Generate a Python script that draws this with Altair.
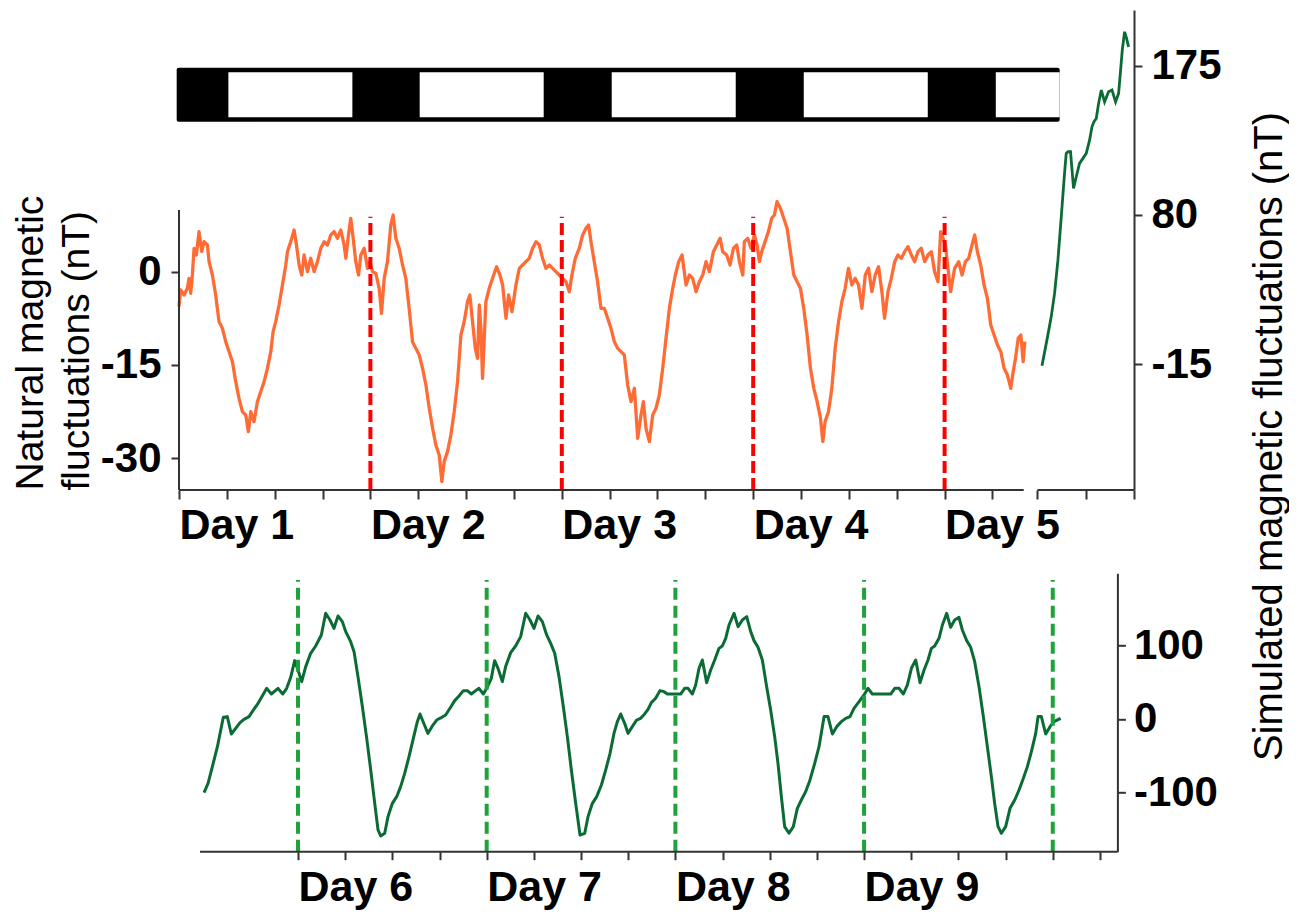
import altair as alt
import pandas as pd

FONT = "Liberation Sans"

# ---------------- data ----------------
# Top panel: natural magnetic fluctuations (hours from start of Day 1, nT)
nat_t = [0.00, 0.21, 0.63, 1.05, 1.26, 1.47, 1.68, 1.89, 2.18, 2.51, 2.85, 3.14, 3.56, 3.77, 4.19, 4.60,
         5.02, 5.44, 5.86, 6.28, 6.70, 7.11, 7.53, 7.95, 8.37, 8.70, 9.00, 9.41, 9.83, 10.25, 10.67, 11.09,
         11.51, 11.80, 12.13, 12.55, 12.97, 13.39, 13.60, 14.02, 14.43, 14.73, 15.06, 15.39, 15.69, 16.11,
         16.52, 16.94, 17.36, 17.78, 18.20, 18.62, 19.03, 19.45, 19.87, 20.29, 20.71, 20.92, 21.25, 21.54,
         21.84, 22.17, 22.51, 22.80, 23.22, 23.63, 23.93, 24.26, 24.68, 25.10, 25.39, 25.73, 26.14, 26.56,
         26.85, 27.19, 27.61, 28.03, 28.44, 28.86, 29.28, 29.70, 30.12, 30.54, 30.96, 31.38, 31.80, 32.21,
         32.63, 32.96, 33.25, 33.67, 34.09, 34.51, 34.93, 35.35,
         35.76, 36.18, 36.47, 36.81, 37.15, 37.44, 37.65, 37.86, 38.06, 38.48, 38.90, 39.32, 39.82, 40.24,
         40.58, 41.00, 41.33, 41.75, 42.25, 42.67, 43.08, 43.50, 43.92, 44.34, 44.76, 45.18, 45.59, 46.01,
         46.43, 46.85, 47.26, 47.68, 48.10, 48.52, 48.94, 49.27, 49.69, 50.19, 50.61, 51.03, 51.36, 51.66,
         52.07, 52.49, 52.91, 53.33, 53.75, 54.17, 54.59, 55.01, 55.43, 55.84, 56.26, 56.68, 57.10, 57.52,
         57.93, 58.23, 58.56, 58.98, 59.40, 59.81, 60.23, 60.65, 61.07, 61.49, 61.91, 62.24, 62.66, 63.08,
         63.58, 64.00, 64.41, 64.83, 65.25, 65.67, 66.09, 66.51, 67.01, 67.43, 67.85, 68.18, 68.68, 69.10,
         69.52, 69.94, 70.27, 70.69,
         70.89, 71.31, 71.73, 72.15, 72.48, 72.78, 73.07, 73.49, 73.91, 74.32, 74.66, 74.99, 75.41, 75.83,
         76.25, 76.67, 77.09, 77.51, 77.92, 78.34, 78.76, 79.18, 79.60, 80.02, 80.44, 80.73, 81.02, 81.44,
         81.86, 82.28, 82.70, 83.12, 83.53, 83.95, 84.37, 84.79, 85.21, 85.63, 86.05, 86.46, 86.88, 87.30,
         87.72, 88.14, 88.47, 88.90, 89.32, 89.74, 90.15, 90.57, 90.99, 91.41, 91.83, 92.25, 92.66, 93.08,
         93.50, 93.92, 94.34, 94.75, 95.17, 95.51, 95.80, 96.10, 96.43, 96.76, 97.26, 97.77, 98.19, 98.61,
         99.02, 99.44, 99.78, 100.11, 100.53, 100.95, 101.37, 101.79, 102.21, 102.63, 103.05, 103.46,
         103.88, 104.30, 104.60, 104.89, 105.23, 105.56, 105.85, 106.06]
nat_v = [-5.62, -2.94, -3.75, -2.67, -1.07, -3.48, -0.53, 3.76, 2.68, 6.44, 3.22, 4.83, 4.29, 1.61, -0.53, -3.75,
         -8.03, -9.11, -11.25, -12.86, -14.46, -17.68, -20.36, -22.51, -23.04, -25.72, -22.51, -24.11, -20.90,
         -19.29, -17.68, -15.54, -12.86, -9.64, -8.03, -5.36, -2.14, 1.08, 3.22, 4.83, 6.70, 4.29, 1.08, -0.53,
         2.68, 0.01, 2.15, 0.01, 1.61, 3.76, 4.83, 4.29, 5.90, 6.44, 5.36, 6.70, 4.29, 2.15, 5.90, 8.58,
         5.36, 1.61, -0.53, 2.68, 3.76, 0.54, 1.61, 0.01, -0.26, -2.67, -6.70, -1.07, 1.61, 7.51,
         9.11, 5.36, 3.76, 1.08, -1.07, -5.90, -11.25, -12.33, -13.39, -15.54, -18.22, -21.97, -25.18, -27.86,
         -29.47, -33.76, -30.54, -28.93, -26.26, -22.51, -17.68, -10.18,
         -8.04, -4.82, -3.75, -8.04, -12.33, -13.94, -5.36, -9.11, -17.15, -4.82, -2.68, -1.07, 0.80, -0.53,
         -2.14, -7.50, -3.75, -6.43, -2.14, 0.54, 1.07, 1.61, 2.14, 3.76, 4.83, 4.29, 2.14, 0.54,
         1.07, 0.54, 0.01, -0.53, -1.07, -1.61, -3.22, -0.53, 2.14, 3.76, 5.90, 6.97, 7.51, 4.83,
         1.61, -1.61, -5.90, -5.90, -7.50, -9.11, -11.25, -12.33, -12.86, -13.40, -18.22, -20.90, -18.75, -26.79,
         -23.04, -20.90, -25.18, -27.33, -23.04, -21.97, -19.83, -15.54, -10.71, -5.90, -2.68, -0.53, 1.61, 2.68,
         -2.14, -0.53, -1.07, -3.22, -1.61, -0.53, 1.61, 0.01, 3.22, 4.29, 5.36, 3.22, 2.68, 1.07,
         3.76, 4.29, 1.61, -0.53,
         4.83, 5.36, 3.76, 5.90, 4.29, 1.61, 3.22, 4.83, 6.44, 8.58, 9.11, 11.26, 10.19, 8.58,
         6.97, 3.22, -0.53, -1.61, -2.68, -5.90, -10.18, -15.54, -18.76, -20.90, -23.58, -27.33, -24.11, -22.51,
         -18.76, -12.33, -8.04, -4.82, -2.68, 0.54, -2.14, -1.07, -2.14, -5.90, -0.53, 0.54, -3.22, -0.53,
         0.80, -3.22, -7.50, -3.22, -1.07, 1.61, 2.68, 2.14, 3.22, 4.02, 2.68, 1.61, 3.22, 3.76,
         1.61, 2.68, 3.22, 0.01, -1.61, 6.44, 5.36, 4.29, 0.54, -3.22, 0.54, 1.61, -0.53, 1.61,
         2.14, 4.29, 5.90, 3.22, 1.07, -2.14, -4.29, -8.57, -10.18, -11.79, -12.86, -15.54,
         -16.61, -18.76, -16.08, -13.94, -10.72, -10.18, -14.47, -11.25]

# Top panel: short simulated trace (right axis)
simtop_t = [108.21, 108.75, 109.37, 109.79, 110.21, 110.63, 111.04, 111.25, 111.47, 111.79, 112.17, 112.51,
            112.92, 113.35, 113.76, 114.18, 114.48, 114.73, 115.02, 115.31, 115.65, 116.06, 116.56, 116.99,
            117.44, 117.82, 118.07, 118.28, 118.57, 118.82, 119.07]
simtop_v = [-16.1, -1.8, 15.1, 30.0, 51.2, 78.8, 106.4, 119.2, 120.2, 120.2, 96.9, 104.3,
            112.8, 116.0, 119.2, 127.6, 136.1, 139.3, 141.4, 151.0, 159.5, 152.0, 158.4, 159.5,
            152.0, 157.4, 172.2, 184.9, 196.6, 192.4, 187.0]

# Bottom panel: simulated fluctuations (hours from start of Day 6, nT)
sim_t = [-11.95, -11.44, -10.89, -10.25, -9.50, -8.99, -8.48, -7.93, -7.37, -6.87, -6.23, -5.62, -5.08, -4.54,
         -3.98, -3.39, -2.54, -1.95, -1.44, -0.93, -0.42, 0.00, 0.47, 0.98, 1.61, 2.25, 2.97, 3.52, 4.07, 4.58,
         5.09, 5.64, 6.07, 6.70, 7.13, 7.63, 8.19, 8.74, 9.25, 9.76, 10.18, 10.52, 11.03, 11.45, 12.00, 12.55,
         13.06, 13.57, 14.12, 14.67, 15.18, 15.52, 16.03, 16.53, 17.09, 17.64, 18.15, 18.78, 19.33, 19.93,
         20.48, 21.03, 21.54, 22.05, 22.60, 23.02, 23.57, 24.00, 24.59, 25.01, 25.44, 25.99, 26.41, 27.05,
         27.68, 28.32, 28.96, 29.51, 30.02, 30.53, 31.08, 31.63, 32.14, 32.65, 33.20, 33.75, 34.26, 34.77,
         35.32, 35.87, 36.47, 36.89, 37.44, 37.99, 38.59, 39.14, 39.69, 40.19, 40.62, 41.04, 41.55, 41.97,
         42.52, 43.07, 43.58, 44.09, 44.52, 44.94, 45.49, 46.04,
         46.56, 46.98, 48.00, 48.67, 49.18, 49.61, 50.16, 50.58, 51.01, 51.43, 51.98, 52.49, 53.00, 53.55,
         53.97, 54.40, 54.82, 55.46, 55.97, 56.52, 57.07, 57.58, 58.00, 58.51, 59.06, 59.61, 60.12, 60.63,
         61.05, 61.48, 61.90, 62.45, 63.00, 63.51, 64.02, 64.57, 65.12, 65.72, 66.27, 66.91, 67.41, 67.97,
         68.52, 69.11, 69.66, 70.21, 70.72, 71.36, 71.99, 72.50, 73.05, 73.69, 74.33, 75.39, 75.90, 76.45,
         77.00, 77.51, 78.02, 78.57, 79.12, 79.63, 80.13, 80.56, 80.98, 81.53, 81.96, 82.51, 83.01, 83.52,
         84.07, 84.50, 85.05, 85.56, 86.07, 86.62, 87.17, 87.68, 88.19, 88.61, 89.04, 89.46, 90.01, 90.56,
         91.16, 91.71, 92.26, 92.77, 93.28, 93.83, 94.13, 94.55, 95.10, 95.65, 96.15, 97.00]
sim_v = [-100.0, -87.4, -64.7, -37.6, 2.3, 3.2, -20.4, -12.7, -5.0, -0.5, 3.2, 13.1, 21.3, 31.2,
         41.6, 33.9, 41.6, 33.9, 41.6, 56.6, 79.2, 66.5, 50.7, 71.1, 89.2, 99.1, 114.1, 143.5, 134.4, 123.1,
         139.9, 132.2, 118.6, 105.0, 91.4, 57.5, 16.7, -26.3, -69.2, -114.5, -150.7, -158.9, -155.2, -132.6,
         -114.5, -105.5, -91.9, -73.8, -51.1, -26.3, -3.6, 6.8, -6.8, -19.5, -9.5, -1.4, 1.4, 5.4, 14.5, 24.9,
         31.2, 38.5, 38.5, 33.9, 38.5, 41.6, 33.9, 41.6, 55.2, 79.2, 68.8, 50.7, 71.1, 90.1,
         99.1, 111.8, 143.5, 134.4, 123.1, 139.9, 132.2, 114.1, 102.7, 89.2, 57.5, 16.7, -24.0, -69.2,
         -114.5, -157.5, -155.2, -132.6, -114.5, -105.5, -89.6, -69.2, -46.6, -19.5, -3.6, 6.8, -5.9, -19.5,
         -10.4, -1.4, 0.9, 6.8, 13.1, 22.2, 28.1, 38.5,
         37.1, 33.9, 33.9, 33.9, 41.6, 41.6, 33.9, 46.2, 68.8, 80.1, 49.3, 66.5, 80.1, 95.9,
         99.1, 109.5, 127.6, 143.5, 125.4, 134.4, 138.9, 118.6, 106.4, 97.3, 80.1, 43.9, 12.2, -24.0,
         -60.2, -105.5, -146.2, -155.2, -146.2, -121.3, -110.0, -98.7, -82.8, -60.2, -37.6, 3.2, 3.2, -20.4,
         -10.4, -3.6, 0.9, 3.2, 14.5, 23.5, 32.6, 41.6, 33.9, 33.9, 33.9, 33.9, 41.6, 41.6,
         33.9, 46.2, 68.8, 80.1, 49.3, 66.5, 80.1, 95.9, 99.1, 109.5, 127.6, 143.5, 124.5, 134.4,
         138.0, 120.8, 106.4, 97.3, 77.8, 43.9, 3.2, -37.6, -78.3, -114.5, -146.2, -155.2, -146.2, -121.3,
         -110.0, -96.4, -80.6, -64.7, -44.4, -19.5, 3.2, 3.2, -20.4, -10.4, -3.6, 0.9]

# light/dark schedule (hours from start of Day 1)
light_start = [6.19, 30.18, 54.26, 78.34, 102.42]
light_end = [21.74, 45.73, 69.81, 93.89, 110.43]
schedule_span = [-0.29, 110.43]

day_bounds_top = [24, 48, 72, 96]
day_bounds_bot = [0, 24, 48, 72, 96]
top_tick_vals = [0, 6, 12, 18, 24, 30, 36, 42, 48, 54, 60, 66, 72, 78, 84, 90, 96, 102, 107.64, 113.78, 119.75]
bot_tick_vals = [0, 6, 12, 18, 24, 30, 36, 42, 48, 54, 60, 66, 72, 78, 84, 90, 96, 102]
left_ticks = [-30, -15, 0]
right_top_ticks = [-15, 80, 175]
right_bot_ticks = [-100, 0, 100]

# ---------------- scales ----------------
L_LO, L_HI = -35.10, 42.07
XT = alt.Scale(domain=[0, 119.75], nice=False, zero=False)
YL = alt.Scale(domain=[L_LO, L_HI], nice=False, zero=False)
YR = alt.Scale(domain=[-95.17, 210.47], nice=False, zero=False)
B_LO, B_HI = -180.2, 197.8
XB = alt.Scale(domain=[-15.135, 104.22], nice=False, zero=False)
YB = alt.Scale(domain=[B_LO, B_HI], nice=False, zero=False)

AX = "#333333"

x_top_axis = alt.Axis(values=top_tick_vals, domain=False, grid=False, tickSize=9, tickWidth=2, tickColor=AX,
                      labelExpr="datum.value % 24 == 0 && datum.value <= 96 ? 'Day ' + (datum.value / 24 + 1) : ''",
                      labelAlign="left", labelBaseline="top", labelFont=FONT, labelFontWeight="bold",
                      labelFontSize=43, labelColor="black", labelPadding=5, labelFlush=False,
                      labelOverlap=False, title=None)
y_left_axis = alt.Axis(values=left_ticks, domain=False, grid=False, tickSize=8, tickWidth=2, tickColor=AX,
                       labelExpr="datum.value + ''", labelFont=FONT, labelFontWeight="bold", labelFontSize=42,
                       labelColor="black", labelPadding=10,
                       title=["Natural magnetic", "fluctuations (nT)"], titleFont=FONT, titleFontSize=39,
                       titleFontWeight="normal", titleColor="black", titleAngle=270, titleAlign="left",
                       titleBaseline="bottom", titleX=-129, titleY=480, titleLineHeight=46)
y_right_top_axis = alt.Axis(orient="right", values=right_top_ticks, domain=True, domainColor=AX, domainWidth=2,
                            grid=False, tickSize=8, tickWidth=2, tickColor=AX, labelExpr="datum.value + ''",
                            labelFont=FONT, labelFontWeight="bold", labelFontSize=42, labelColor="black",
                            labelPadding=9, title="Simulated magnetic fluctuations (nT)", titleFont=FONT,
                            titleFontSize=40, titleFontWeight="normal", titleColor="black", titleAngle=270,
                            titleAlign="center", titleBaseline="bottom", titleX=155, titleY=426)

nat_df = pd.DataFrame({"t": nat_t, "v": nat_v})
simtop_df = pd.DataFrame({"t": simtop_t, "v": simtop_v})
sched_df = pd.DataFrame({"x0": [schedule_span[0]], "x1": [schedule_span[1]], "y0": [24.12], "y1": [32.80]})
light_df = pd.DataFrame({"x0": light_start, "x1": light_end, "y0": [24.82] * 5, "y1": [32.06] * 5})
red_df = pd.DataFrame({"t": day_bounds_top, "y0": [L_LO] * 4, "y1": [8.84] * 4})
xdom_df = pd.DataFrame({"x0": [0, 107.64], "x1": [105.92, 119.75], "y": [L_LO, L_LO]})
ydom_df = pd.DataFrame({"x": [0], "y0": [L_LO], "y1": [9.9]})

X0 = alt.X("x0:Q", scale=XT, axis=x_top_axis)
Y0 = alt.Y("y0:Q", scale=YL, axis=y_left_axis)

dark_bar = alt.Chart(sched_df).mark_rect(color="black", cornerRadius=2).encode(
    x=X0, x2="x1:Q", y=Y0, y2="y1:Q")
light_bar = alt.Chart(light_df).mark_rect(color="white").encode(
    x=X0, x2="x1:Q", y=Y0, y2="y1:Q")
nat_line = alt.Chart(nat_df).mark_line(color="#FF6B35", strokeWidth=3.3, strokeJoin="round").encode(
    x=alt.X("t:Q", scale=XT, axis=x_top_axis), y=alt.Y("v:Q", scale=YL, axis=y_left_axis))
red_rules = alt.Chart(red_df).mark_rule(color="#FF0000", strokeWidth=4, strokeDash=[12, 5]).encode(
    x=alt.X("t:Q", scale=XT, axis=x_top_axis), y=Y0, y2="y1:Q")
xdom = alt.Chart(xdom_df).mark_rule(color=AX, strokeWidth=2).encode(
    x=X0, x2="x1:Q", y=alt.Y("y:Q", scale=YL, axis=y_left_axis))
ydom = alt.Chart(ydom_df).mark_rule(color=AX, strokeWidth=2).encode(
    x=alt.X("x:Q", scale=XT, axis=x_top_axis), y=Y0, y2="y1:Q")

left_group = alt.layer(dark_bar, light_bar, nat_line, red_rules, xdom, ydom)
sim_top_line = alt.Chart(simtop_df).mark_line(color="#0B6B35", strokeWidth=2.8).encode(
    x=alt.X("t:Q", scale=XT, axis=x_top_axis),
    y=alt.Y("v:Q", scale=YR, axis=y_right_top_axis))

top = alt.layer(left_group, sim_top_line).resolve_scale(y="independent").properties(width=955, height=480)

# ---------------- bottom panel ----------------
x_bot_axis = alt.Axis(values=bot_tick_vals, domain=False, grid=False, tickSize=8, tickWidth=2, tickColor=AX,
                      labelExpr="datum.value % 24 == 0 && datum.value <= 72 ? 'Day ' + (datum.value / 24 + 6) : ''",
                      labelAlign="left", labelBaseline="top", labelFont=FONT, labelFontWeight="bold",
                      labelFontSize=43, labelColor="black", labelPadding=7, labelFlush=False,
                      labelOverlap=False, title=None)
y_bot_axis = alt.Axis(orient="right", values=right_bot_ticks, domain=True, domainColor=AX, domainWidth=2,
                      grid=False, tickSize=8, tickWidth=2, tickColor=AX, labelExpr="datum.value + ''",
                      labelFont=FONT, labelFontWeight="bold", labelFontSize=42, labelColor="black",
                      labelPadding=8, title=None)

sim_df = pd.DataFrame({"t": sim_t, "v": sim_v})
green_df = pd.DataFrame({"t": day_bounds_bot, "y0": [B_LO] * 5, "y1": [188.7] * 5})
bdom_df = pd.DataFrame({"x0": [-12.46], "x1": [104.22], "y": [B_LO]})

XBt = alt.X("t:Q", scale=XB, axis=x_bot_axis)
sim_line = alt.Chart(sim_df).mark_line(color="#0B6B35", strokeWidth=3, strokeJoin="round").encode(
    x=XBt, y=alt.Y("v:Q", scale=YB, axis=y_bot_axis))
green_rules = alt.Chart(green_df).mark_rule(color="#1FA23C", strokeWidth=4, strokeDash=[12, 6]).encode(
    x=XBt, y=alt.Y("y0:Q", scale=YB, axis=y_bot_axis), y2="y1:Q")
bdom = alt.Chart(bdom_df).mark_rule(color=AX, strokeWidth=2).encode(
    x=alt.X("x0:Q", scale=XB, axis=x_bot_axis), x2="x1:Q", y=alt.Y("y:Q", scale=YB, axis=y_bot_axis))

bottom = alt.layer(sim_line, green_rules, bdom).properties(width=938.4, height=278.4)

chart = alt.vconcat(top, bottom, spacing=83.3, bounds="flush").properties(
    padding={"left": 2, "top": 2, "right": 0, "bottom": 0}, background="white"
).configure_view(strokeWidth=0, stroke="transparent")

chart.save("out.html", embed_options={"renderer": "svg", "actions": False})
